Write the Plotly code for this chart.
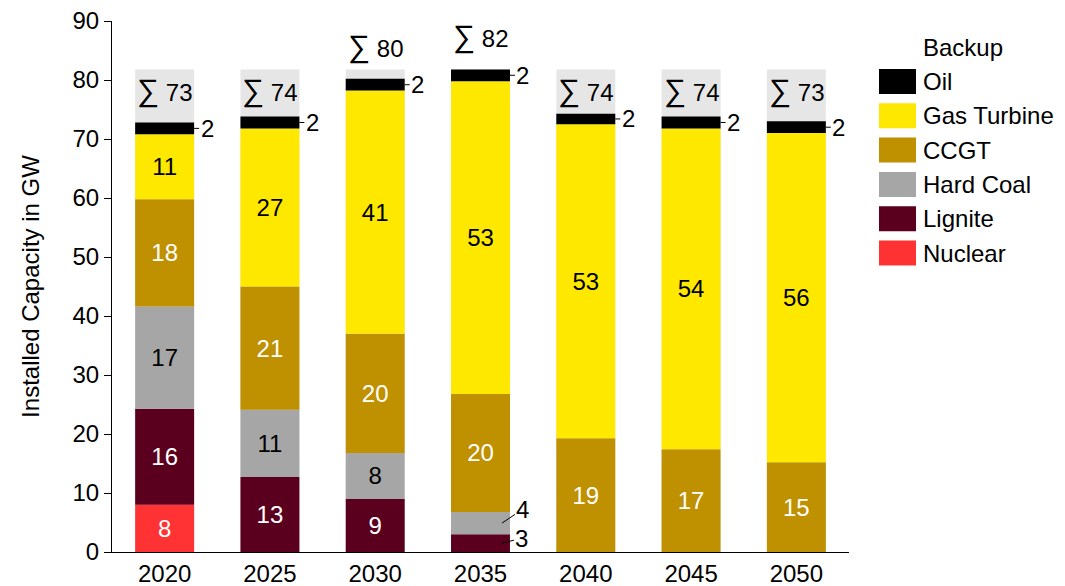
import plotly.graph_objects as go

# Installed backup capacity (GW) per scenario year
years = ["2020", "2025", "2030", "2035", "2040", "2045", "2050"]
nuclear = [8.0, 0, 0, 0, 0, 0, 0]
lignite = [16.3, 12.7, 9.0, 3.0, 0, 0, 0]
hard_coal = [17.3, 11.4, 7.8, 3.8, 0, 0, 0]
ccgt = [18.2, 20.9, 20.2, 20.0, 19.3, 17.4, 15.2]
gas_turbine = [11.0, 26.8, 41.2, 53.0, 53.2, 54.4, 55.8]
oil = [2.0, 2.0, 2.0, 2.0, 1.8, 2.0, 2.0]

series = [
    ("Nuclear", nuclear, "#FF3333", "white"),
    ("Lignite", lignite, "#5A001E", "white"),
    ("Hard Coal", hard_coal, "#A6A6A6", "black"),
    ("CCGT", ccgt, "#BF9000", "white"),
    ("Gas Turbine", gas_turbine, "#FFE800", "black"),
    ("Oil", oil, "#000000", "white"),
]

FONT = "Liberation Sans, Arial, sans-serif"
FS = 24
BAR_W = 0.56

# figure geometry (pixels)
W, H = 1065, 586
ML, MR, MT, MB = 112, 216, 21, 34
PW, PH = W - ML - MR, H - MT - MB

totals = [sum(v[i] for _, v, _, _ in series) for i in range(len(years))]
frame_top = max(totals)
xs = list(range(len(years)))

fig = go.Figure()

# light grey frame behind every column, as tall as the largest total
fig.add_trace(go.Bar(
    x=xs, y=[frame_top] * len(years), base=[0] * len(years),
    marker=dict(color="#E6E6E6", line=dict(width=0)),
    width=BAR_W, showlegend=False, hoverinfo="skip",
))

# stacked segments built from explicit bases
bases = [0.0] * len(years)
segment_bases = {}
for name, vals, color, txtcol in series:
    segment_bases[name] = list(bases)
    labels = [f"{v:.0f}" if (v >= 5 and name != "Oil") else "" for v in vals]
    fig.add_trace(go.Bar(
        name=name, x=xs, y=vals, base=list(bases),
        marker=dict(color=color, line=dict(width=0)),
        width=BAR_W,
        text=labels, textposition="inside", insidetextanchor="middle",
        textangle=0, constraintext="none",
        textfont=dict(family=FONT, size=FS, color=txtcol),
        showlegend=False,
        customdata=years,
        hovertemplate=name + " %{customdata}: %{y:.1f} GW<extra></extra>",
    ))
    bases = [b + v for b, v in zip(bases, vals)]

annotations = []
half_bar_px = BAR_W / 2 * PW / len(years)

# oil values with short leader lines to the right of each column
for i in xs:
    yc = segment_bases["Oil"][i] + oil[i] / 2
    annotations.append(dict(
        x=i, y=yc, xref="x", yref="y", text=f"{oil[i]:.0f}",
        showarrow=True, arrowhead=0, arrowwidth=1, arrowcolor="black",
        ax=13, ay=0, xshift=half_bar_px,
        font=dict(family=FONT, size=FS, color="black"),
    ))

# small segments labelled outside with callouts
small = [("Hard Coal", hard_coal, 21, -14), ("Lignite", lignite, 20, -5)]
for name, vals, ax, ay in small:
    for i in xs:
        v = vals[i]
        if 0 < v < 5:
            yc = segment_bases[name][i] + v / 2
            annotations.append(dict(
                x=i, y=yc, xref="x", yref="y", text=f"{v:.0f}",
                showarrow=True, arrowhead=0, arrowwidth=1, arrowcolor="black",
                ax=ax, ay=ay, xshift=half_bar_px - 8,
                font=dict(family=FONT, size=FS, color="black"),
            ))

# column totals: inside the grey frame, or above it for the tallest columns
for i in xs:
    t = totals[i]
    y_lab = t + 5.5 if frame_top - t < 3 else frame_top - 3.5
    annotations.append(dict(
        x=i, y=y_lab, xref="x", yref="y",
        text=f"<span style='font-size:31px'>\u2211</span> {t:.0f}",
        showarrow=False, yanchor="middle",
        font=dict(family=FONT, size=FS, color="black"),
    ))

# legend drawn as swatches + labels
def px_x(px):
    return (px - ML) / PW

def px_y(py):
    return (H - MB - py) / PH

shapes = []
annotations.append(dict(
    x=px_x(921), y=px_y(48), xref="paper", yref="paper", text="Backup",
    showarrow=False, xanchor="left", yanchor="middle",
    font=dict(family=FONT, size=FS, color="black"),
))
legend_items = list(reversed(series))
for k, (name, vals, color, _) in enumerate(legend_items):
    yc = 81.5 + k * 34.3
    shapes.append(dict(
        type="rect", xref="paper", yref="paper",
        x0=px_x(879), x1=px_x(916), y0=px_y(yc + 12.5), y1=px_y(yc - 12.5),
        fillcolor=color, line=dict(width=0),
    ))
    annotations.append(dict(
        x=px_x(921), y=px_y(yc), xref="paper", yref="paper", text=name,
        showarrow=False, xanchor="left", yanchor="middle",
        font=dict(family=FONT, size=FS, color="black"),
    ))

fig.update_layout(
    width=W, height=H,
    margin=dict(l=ML, r=MR, t=MT, b=MB, pad=0),
    barmode="overlay",
    paper_bgcolor="white", plot_bgcolor="white",
    font=dict(family=FONT, size=FS, color="black"),
    showlegend=False,
    annotations=annotations,
    shapes=shapes,
    xaxis=dict(
        range=[-0.5, len(years) - 0.5],
        tickmode="array", tickvals=xs, ticktext=years,
        showline=True, linecolor="black", linewidth=1,
        ticks="", showgrid=False, zeroline=False, automargin=False,
        tickfont=dict(family=FONT, size=FS, color="black"),
    ),
    yaxis=dict(
        range=[0, 90], dtick=10, tick0=0,
        showline=True, linecolor="black", linewidth=1,
        ticks="outside", ticklen=7, tickcolor="black",
        showgrid=False, zeroline=False, automargin=False,
        tickfont=dict(family=FONT, size=FS, color="black"),
        title=dict(text="Installed Capacity in GW",
                   font=dict(family=FONT, size=FS, color="black"), standoff=26),
    ),
)

fig.write_html("out.html")
